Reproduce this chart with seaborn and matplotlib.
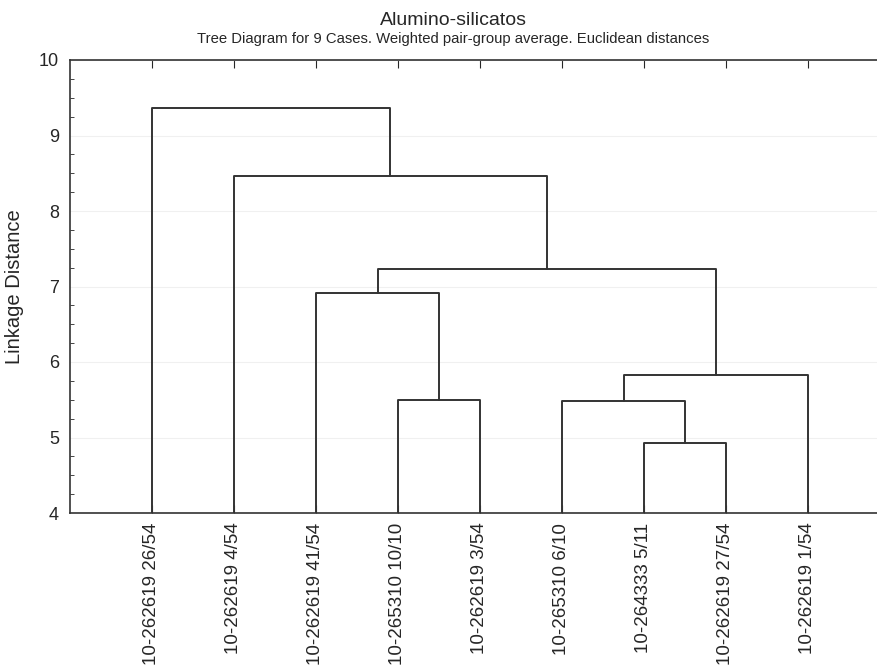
import pandas as pd
import seaborn as sns
import matplotlib.pyplot as plt
from matplotlib.ticker import MultipleLocator

# Leaves in the order they appear along the x axis
leaf_labels = ['10-262619 26/54', '10-262619 4/54', '10-262619 41/54',
               '10-265310 10/10', '10-262619 3/54', '10-265310 6/10',
               '10-264333 5/11', '10-262619 27/54', '10-262619 1/54']

# Merge table (like a linkage matrix): ids 0-8 are leaves, 9+ are clusters
merge_a = [6, 3, 5, 11, 2, 13, 1, 0]
merge_b = [7, 4, 9, 8, 10, 12, 14, 15]
merge_height = [4.93, 5.50, 5.49, 5.83, 6.91, 7.23, 8.47, 9.37]

# Build the line segments of the tree from the merge table
n = len(leaf_labels)
xpos = {i: i + 1 for i in range(n)}
ypos = {i: 4.0 for i in range(n)}
rows = []
for k, (a, b, h) in enumerate(zip(merge_a, merge_b, merge_height)):
    node = n + k
    seg = f'm{k}'
    for x, y in [(xpos[a], ypos[a]), (xpos[a], h), (xpos[b], h), (xpos[b], ypos[b])]:
        rows.append({'seg': seg, 'x': x, 'y': y})
    xpos[node] = (xpos[a] + xpos[b]) / 2
    ypos[node] = h
tree = pd.DataFrame(rows)

sns.set_style('white')
plt.rcParams['font.family'] = ['Liberation Sans', 'DejaVu Sans']

fig = plt.figure(figsize=(8.78, 6.71), dpi=100)
ax = fig.add_axes([70 / 878, 158 / 671, 820 / 878, 453 / 671])

sns.lineplot(data=tree, x='x', y='y', units='seg', estimator=None, sort=False,
             color='#333333', linewidth=1.4, ax=ax)

ax.set_xlim(0, 10)
ax.set_ylim(4, 10)
ax.set_xticks(range(1, n + 1))
ax.set_xticklabels(leaf_labels, rotation=90, fontsize=13.5)
ax.set_yticks(range(4, 11))
ax.yaxis.set_minor_locator(MultipleLocator(0.25))
ax.tick_params(axis='y', which='major', direction='in', length=5, labelsize=13, pad=8)
ax.tick_params(axis='y', which='minor', direction='in', length=3, left=True)
ax.tick_params(axis='x', direction='in', length=6, top=True, bottom=True, pad=7)
ax.set_xlabel('')
ax.set_ylabel('Linkage Distance', fontsize=14.5)
ax.yaxis.set_label_coords(-0.056, 0.5)
ax.grid(axis='y', color='#f0f0f0', linewidth=0.8)
for s in ['left', 'bottom', 'top']:
    ax.spines[s].set_color('#333333')
    ax.spines[s].set_linewidth(1.2)
ax.spines['right'].set_visible(False)

fig.text(453 / 878, 1 - 25 / 671, 'Alumino-silicatos', ha='center', va='baseline', fontsize=14)
fig.text(453 / 878, 1 - 43 / 671, 'Tree Diagram for 9 Cases. Weighted pair-group average. Euclidean distances',
         ha='center', va='baseline', fontsize=10.7)

fig.savefig('out.png', dpi=100)
